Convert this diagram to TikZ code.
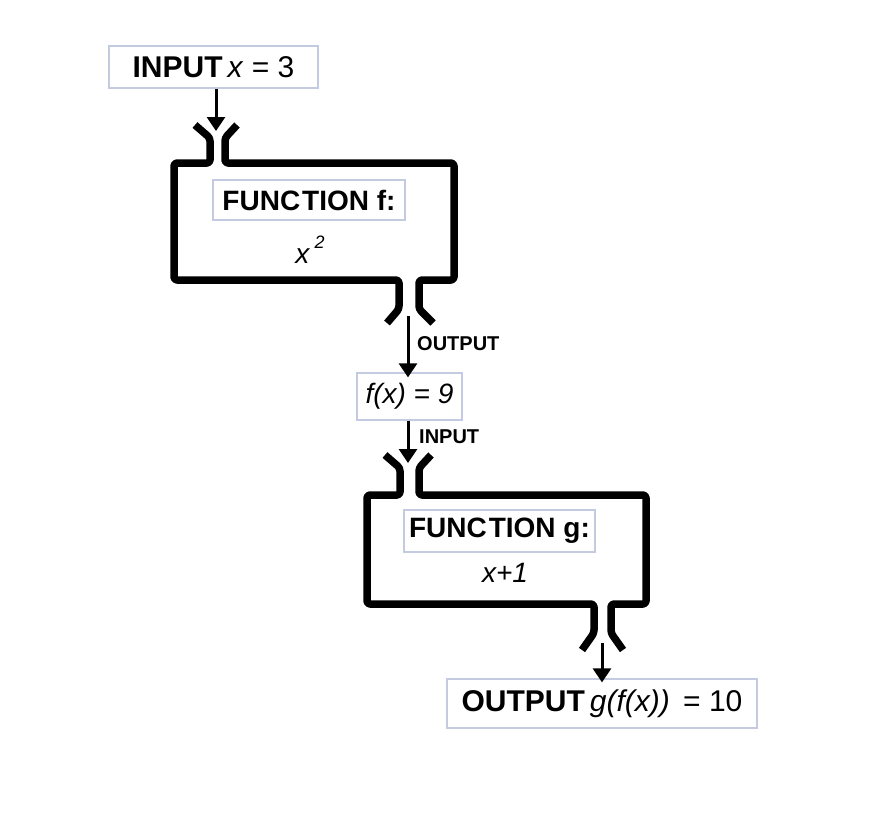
\documentclass[tikz,border=0pt]{standalone}
\usepackage{fontspec}
\setmainfont{Liberation Sans}
\usetikzlibrary{arrows.meta}
\definecolor{boxline}{RGB}{196,202,224}
\tikzset{
  lbl/.style={draw=boxline, line width=1.3pt, fill=white, inner sep=0pt, align=center, text=black},
  pipe/.style={line width=7.5pt, rounded corners=3pt, line join=round},
  flow/.style={line width=3pt, -{Triangle[width=18pt,length=14pt]}},
  tag/.style={font=\fontsize{20}{22}\selectfont\bfseries, anchor=west, inner sep=0pt}
}
\begin{document}
\begin{tikzpicture}[x=1pt,y=-1pt]
\useasboundingbox (0,0) rectangle (887,817);
\fill[white] (0,0) rectangle (887,817);

% text boxes
\node[lbl, minimum width=209pt, minimum height=42pt, font=\fontsize{30}{32}\selectfont] (in) at (213.5,67)
  {\textbf{INPUT}\,\textit{x} = 3};
\node[lbl, minimum width=192pt, minimum height=40pt, font=\fontsize{28}{30}\selectfont\bfseries] (fname) at (309,200)
  {FUNC\kern2pt TION f:};
\node[font=\fontsize{28}{30}\selectfont, inner sep=0pt] (fexpr) at (310,250) {\textit{x}\,\raisebox{0.55em}{\fontsize{18}{20}\selectfont\textit{2}}};
\node[lbl, minimum width=105pt, minimum height=47pt, font=\fontsize{28}{30}\selectfont\itshape] (fx) at (409.5,396.5)
  {f(x) = 9};
\node[lbl, minimum width=191pt, minimum height=42pt, font=\fontsize{28}{30}\selectfont\bfseries] (gname) at (499.5,531)
  {FUNC\kern2pt TION g:};
\node[font=\fontsize{28}{30}\selectfont\itshape, inner sep=0pt] (gexpr) at (505,573) {x+1};
\node[lbl, minimum width=310pt, minimum height=49pt, font=\fontsize{30}{32}\selectfont] (out) at (602,703.5)
  {\textbf{OUTPUT}\,\textit{g(f(x))}\, = 10};

% function f machine
\draw[pipe] (195,125) -- (210,138) -- (210,163) -- (174,163) -- (174,280) -- (399,280) -- (399,309) -- (387,323);
\draw[pipe] (237,125) -- (225,138) -- (225,163) -- (454,163) -- (454,280) -- (419,280) -- (419,309) -- (433,323);
% function g machine
\draw[pipe] (385,455) -- (400,468) -- (400,495) -- (367,495) -- (367,604) -- (594,604) -- (594,633) -- (582,650);
\draw[pipe] (431,455) -- (419,468) -- (419,495) -- (646,495) -- (646,604) -- (611,604) -- (611,633) -- (623,650);

% flow connectors
\coordinate (fin) at (216,131);
\coordinate (fout) at (408,316);
\coordinate (gin) at (408,463);
\coordinate (gout) at (602,643);
\draw[flow] (in.south -| fin) -- (fin);
\draw[flow] (fout) -- ([yshift=-5pt]fx.north -| fout);
\draw[flow] (fx.south -| gin) -- (gin);
\draw[flow] (gout) -- ([yshift=-4pt]out.north -| gout);

\node[tag] (outlbl) at (417,344) {OUTPUT};
\node[tag] (inlbl) at (419,437) {INPUT};
\end{tikzpicture}
\end{document}
